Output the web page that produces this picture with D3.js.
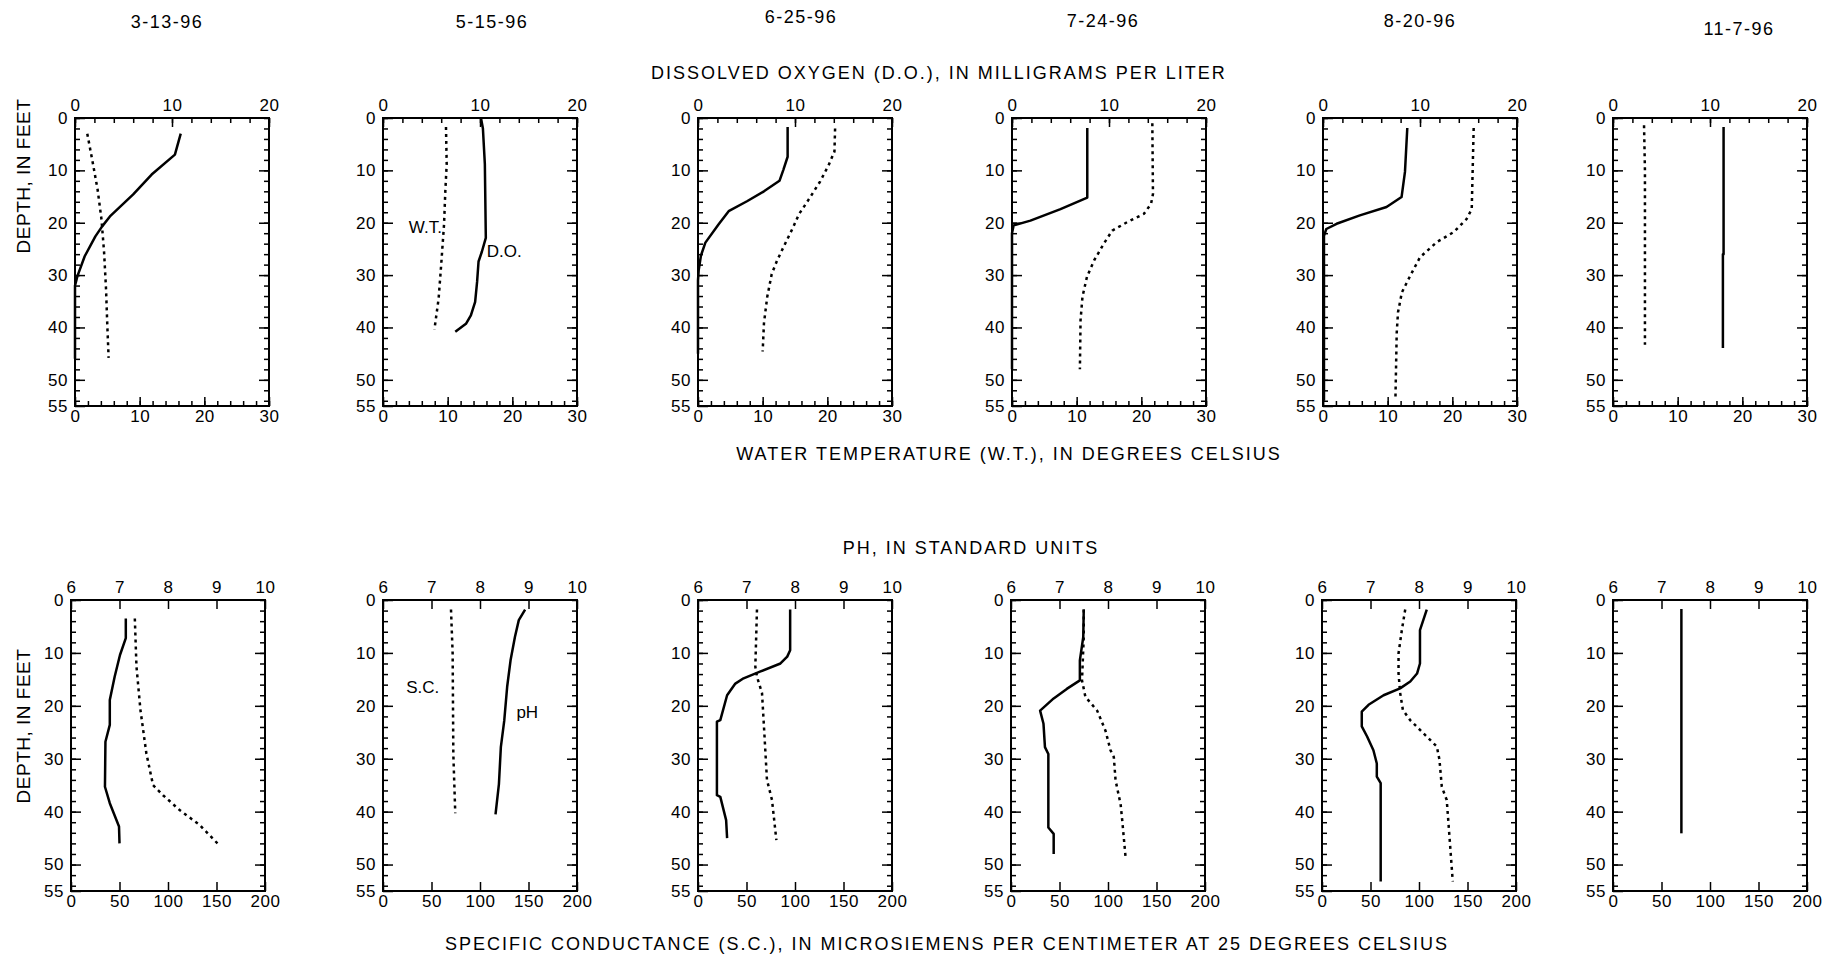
<!DOCTYPE html>
<html>
<head>
<meta charset="utf-8">
<script src="https://cdn.jsdelivr.net/npm/d3@7"></script>
<style>
  body { margin: 0; background: #fff; }
  svg { font-family: "Liberation Sans", Arial, sans-serif; }
  .tick text { font-size: 17px; fill: #000; letter-spacing: 0.5px; }
  .tick line { stroke: #000; stroke-width: 1.5; }
</style>
</head>
<body>
<div id="app"></div>
<script>
// data: sampling dates
var dates = ["3-13-96", "5-15-96", "6-25-96", "7-24-96", "8-20-96", "11-7-96"];

// dissolved oxygen profiles, [depth ft, mg/L]
var dissolvedOxygen = [
  [[3, 10.9], [7, 10.3], [10.8, 7.9], [14.6, 6.0], [18.8, 3.6], [20.7, 2.8], [22.6, 2.1], [26.4, 1.0], [30.2, 0.25], [32, 0], [46, 0]],
  [[0, 10.1], [2, 10.3], [8.8, 10.5], [22.9, 10.6], [25.5, 10.2], [27.4, 9.85], [31.3, 9.7], [35.1, 9.5], [37.7, 9.06], [39.3, 8.55], [40.8, 7.45]],
  [[1.7, 9.24], [7.4, 9.24], [9.9, 8.8], [12, 8.4], [14, 6.8], [15.9, 5.05], [17.8, 3.16], [20.3, 2.13], [23.8, 0.76], [26.3, 0.3], [29.1, 0.07], [31, 0], [45, 0]],
  [[1.9, 7.76], [15.2, 7.76], [17.4, 5.0], [19.6, 1.9], [20.5, 0.17], [22, 0], [48, 0]],
  [[1.9, 8.69], [10.3, 8.45], [15.1, 8.1], [17, 6.55], [18.6, 3.8], [20.2, 1.4], [21.2, 0.34], [22.5, 0.1], [54, 0.1]],
  [[1.7, 11.4], [26, 11.4], [26, 11.33], [43.9, 11.33]]
];

// water temperature profiles, [depth ft, deg C]
var waterTemperature = [
  [[3, 1.9], [8.9, 2.8], [13.7, 3.5], [19.4, 4.1], [25.7, 4.5], [32.7, 4.8], [39.7, 5.0], [45.8, 5.2]],
  [[1.7, 9.74], [8.8, 9.85], [13.9, 9.64], [20.3, 9.44], [28, 9.0], [34.5, 8.6], [40.4, 7.95]],
  [[2, 21.2], [6.4, 21.1], [9, 20.2], [12.1, 18.9], [15.6, 17.1], [18.4, 15.6], [20.9, 14.7], [24.7, 13.2], [27.3, 12.2], [29.8, 11.4], [34.2, 10.7], [39.2, 10.2], [44.6, 10.0]],
  [[1, 21.7], [14.5, 21.8], [16.4, 21.5], [18.3, 20.4], [19.9, 17.8], [21.5, 15.5], [24, 14.2], [27.2, 12.7], [30.3, 11.6], [34.1, 10.9], [38.6, 10.6], [48, 10.5]],
  [[1.9, 23.3], [17.4, 23.0], [19.3, 22.2], [21.8, 20.2], [23.7, 17.6], [26.6, 15], [30.1, 13.5], [33.3, 12.2], [37.1, 11.6], [41, 11.4], [53.7, 11.2]],
  [[1.4, 4.8], [10, 4.94], [43.3, 4.94]]
];

// pH profiles, [depth ft, standard units]
var phValues = [
  [[3.5, 7.13], [7.2, 7.13], [10.4, 7.01], [14.5, 6.9], [18.9, 6.8], [23.6, 6.8], [26.8, 6.71], [35.3, 6.7], [38.4, 6.8], [42.8, 6.99], [46, 7.0]],
  [[1.8, 8.93], [3.8, 8.8], [7, 8.72], [11.4, 8.63], [16.4, 8.56], [22.8, 8.5], [27.8, 8.43], [34.8, 8.39], [40.5, 8.32]],
  [[1.8, 7.9], [9.5, 7.9], [10.7, 7.84], [12, 7.7], [13.5, 7.29], [14.8, 6.94], [15.8, 6.77], [18, 6.6], [22.7, 6.46], [23, 6.39], [36.9, 6.39], [37.2, 6.46], [41.6, 6.58], [45, 6.6]],
  [[1.8, 7.5], [7, 7.49], [11.4, 7.42], [15.2, 7.42], [16.8, 7.15], [18.6, 6.88], [20.9, 6.6], [23.4, 6.67], [27.8, 6.7], [29.1, 6.77], [43, 6.77], [44.2, 6.88], [48, 6.88]],
  [[1.8, 8.16], [5.7, 8.02], [12, 8.02], [13.9, 7.96], [15.4, 7.82], [16.7, 7.61], [18, 7.27], [19.8, 6.96], [21.1, 6.82], [23.9, 6.82], [25.8, 6.93], [28.4, 7.06], [30.9, 7.13], [33.4, 7.13], [34.6, 7.21], [53.2, 7.21]],
  [[1.7, 7.41], [44.1, 7.41]]
];

// specific conductance profiles, [depth ft, microsiemens/cm]
var specificConductance = [
  [[3.5, 65.8], [12.6, 67.5], [20.8, 71.6], [29, 77.7], [35, 84.6], [36.9, 94.9], [39.7, 112], [42.5, 132.5], [46, 151]],
  [[1.8, 70.1], [10.1, 71.8], [29.1, 72.5], [40.3, 74.5]],
  [[1.8, 60.8], [12.6, 59.1], [14.5, 60.8], [17.6, 66], [25.2, 68.4], [34, 71.1], [37.8, 76.3], [45.4, 80.8]],
  [[1.8, 75], [7, 75], [15.2, 73.2], [18.3, 76.7], [20.9, 88.8], [24.7, 97.4], [28.4, 102.6], [29.7, 106], [34.1, 107.8], [38.6, 113], [41.7, 114.7], [48.4, 118]],
  [[1.8, 85.8], [5.7, 82.3], [10.1, 78.9], [13.9, 78.9], [17.6, 80.6], [20.8, 83.4], [22.7, 90.9], [25.2, 104.6], [27.7, 118.4], [30.2, 121.1], [35.3, 123.5], [37.8, 128.6], [44.7, 131.4], [53.2, 134.8]],
  []
];

// tick labels
var depthTicks = [0, 10, 20, 30, 40, 50, 55];
var doTicks = [0, 10, 20];
var wtTicks = [0, 10, 20, 30];
var phTicks = [6, 7, 8, 9, 10];
var scTicks = [0, 50, 100, 150, 200];

// layout
var width = 1836, height = 959;
var panelW = 194;
var topLefts = [75, 383, 698, 1012, 1323, 1613];
var bottomLefts = [71, 383, 698, 1011, 1322, 1613];
var topRow = {y: 118, h: 288};
var bottomRow = {y: 600, h: 291};
var dateX = [167, 492, 801, 1103, 1420, 1739];
var dateY = [28, 28, 23, 27, 27, 35];

var svg = d3.select("#app")
  .append("svg")
    .attr("width", width)
    .attr("height", height);

// date titles
svg.selectAll(".date")
  .data(dates)
  .join("text")
    .attr("class", "date")
    .attr("x", (d, i) => dateX[i])
    .attr("y", (d, i) => dateY[i])
    .attr("text-anchor", "middle")
    .style("font-size", "18px")
    .style("letter-spacing", "1.5px")
    .text(d => d);

function axisTitle(text, x, y) {
  svg.append("text")
    .attr("x", x)
    .attr("y", y)
    .attr("text-anchor", "middle")
    .style("font-size", "18px")
    .style("letter-spacing", "2px")
    .text(text);
}
axisTitle("DISSOLVED OXYGEN (D.O.), IN MILLIGRAMS PER LITER", 939, 79);
axisTitle("WATER TEMPERATURE (W.T.), IN DEGREES CELSIUS", 1009, 460);
axisTitle("PH, IN STANDARD UNITS", 971, 554);
axisTitle("SPECIFIC CONDUCTANCE (S.C.), IN MICROSIEMENS PER CENTIMETER AT 25 DEGREES CELSIUS", 947, 950);

function depthTitle(cy) {
  svg.append("text")
    .attr("transform", "translate(30," + cy + ") rotate(-90)")
    .attr("text-anchor", "middle")
    .style("font-size", "19px")
    .style("letter-spacing", "0.5px")
    .text("DEPTH, IN FEET");
}
depthTitle(176);
depthTitle(726);

function drawPanel(left, row, top, bottom, solid, dotted, notes) {
  var g = svg.append("g")
    .attr("transform", "translate(" + left + "," + row.y + ")");
  var h = row.h;

  var y = d3.scaleLinear().domain([0, 55]).range([0, h]);
  var xTop = d3.scaleLinear().domain(top.domain).range([0, panelW]);
  var xBot = d3.scaleLinear().domain(bottom.domain).range([0, panelW]);

  // minor ticks (no labels)
  g.append("g").call(d3.axisLeft(y).tickValues(d3.range(0, 55, 2)).tickSize(-5).tickFormat(""));
  g.append("g").attr("transform", "translate(" + panelW + ",0)")
    .call(d3.axisRight(y).tickValues(d3.range(0, 55, 2)).tickSize(-5).tickFormat(""));
  if (top.minor) {
    g.append("g").call(d3.axisTop(xTop).tickValues(top.minor).tickSize(-5).tickFormat(""));
  }
  if (bottom.minor) {
    g.append("g").attr("transform", "translate(0," + h + ")")
      .call(d3.axisBottom(xBot).tickValues(bottom.minor).tickSize(-5).tickFormat(""));
  }

  // major ticks with labels
  g.append("g").call(d3.axisLeft(y).tickValues(depthTicks).tickSize(-10).tickPadding(7).tickFormat(d3.format("d")));
  g.append("g").attr("transform", "translate(" + panelW + ",0)")
    .call(d3.axisRight(y).tickValues([10, 20, 30, 40, 50]).tickSize(-10).tickFormat(""));
  g.append("g").call(d3.axisTop(xTop).tickValues(top.ticks).tickSize(-9).tickPadding(7).tickFormat(d3.format("d")));
  g.append("g").attr("transform", "translate(0," + h + ")")
    .call(d3.axisBottom(xBot).tickValues(bottom.ticks).tickSize(-9).tickPadding(4).tickFormat(d3.format("d")));

  g.selectAll(".domain").remove();

  // frame
  g.append("rect")
    .attr("width", panelW)
    .attr("height", h)
    .attr("fill", "none")
    .attr("stroke", "#000")
    .attr("stroke-width", 2);

  // profiles
  g.append("path")
    .datum(solid)
    .attr("fill", "none")
    .attr("stroke", "#000")
    .attr("stroke-width", 2.5)
    .attr("stroke-linejoin", "round")
    .attr("d", d3.line().x(d => xTop(d[1])).y(d => y(d[0])));

  if (dotted.length) {
    g.append("path")
      .datum(dotted)
      .attr("fill", "none")
      .attr("stroke", "#000")
      .attr("stroke-width", 2.5)
      .attr("stroke-dasharray", "3,4")
      .attr("d", d3.line().x(d => xBot(d[1])).y(d => y(d[0])));
  }

  // in-panel labels
  (notes || []).forEach(function(n) {
    var sx = n.scale === "top" ? xTop : xBot;
    g.append("text")
      .attr("x", sx(n.value))
      .attr("y", y(n.depth))
      .style("font-size", "17px")
      .text(n.text);
  });
}

var doAxis = {domain: [0, 20], ticks: doTicks, minor: d3.range(0, 21, 2)};
var wtAxis = {domain: [0, 30], ticks: wtTicks, minor: d3.range(0, 31, 2)};
var phAxis = {domain: [6, 10], ticks: phTicks};
var scAxis = {domain: [0, 200], ticks: scTicks};

dates.forEach(function(d, i) {
  var topNotes = i === 1 ? [
    {text: "W.T.", scale: "bottom", value: 4.0, depth: 22},
    {text: "D.O.", scale: "top", value: 10.7, depth: 26.5}
  ] : [];
  var bottomNotes = i === 1 ? [
    {text: "S.C.", scale: "bottom", value: 24, depth: 17.6},
    {text: "pH", scale: "top", value: 8.75, depth: 22.3}
  ] : [];
  drawPanel(topLefts[i], topRow, doAxis, wtAxis, dissolvedOxygen[i], waterTemperature[i], topNotes);
  drawPanel(bottomLefts[i], bottomRow, phAxis, scAxis, phValues[i], specificConductance[i], bottomNotes);
});
</script>
</body>
</html>
